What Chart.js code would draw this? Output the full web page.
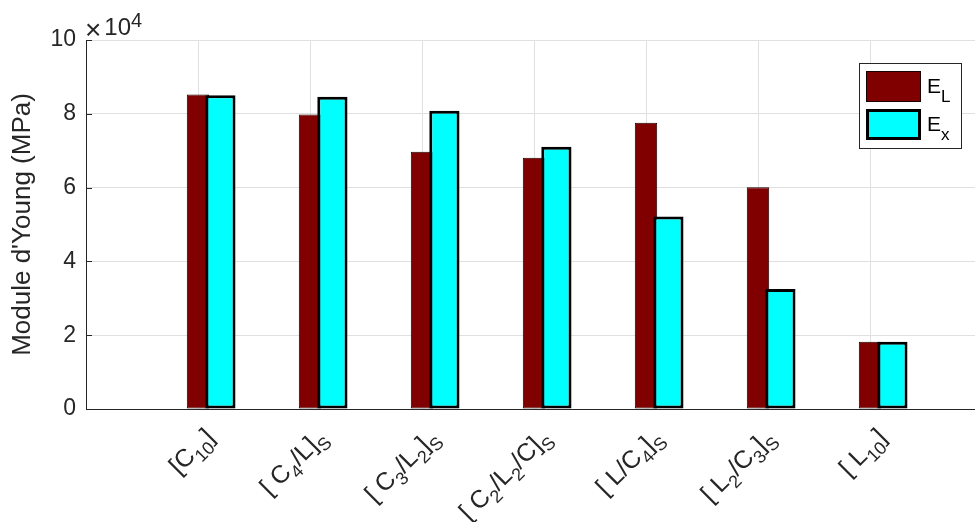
<!DOCTYPE html>
<html><head><meta charset="utf-8">
<script src="https://cdn.jsdelivr.net/npm/chart.js@4.4.0/dist/chart.umd.min.js"></script>
<style>html,body{margin:0;padding:0;background:#fff;overflow:hidden}</style>
</head><body>
<canvas id="c" width="975" height="522"></canvas>
<script>
// ---- data ----
const categories = ['[C_{10}]', '[ C_4/L]_S', '[ C_3/L_2]_S', '[ C_2/L_2/C]_S', '[ L/C_4]_S', '[ L_2/C_3]_S', '[ L_{10}]'];
const categoryIndex = [1, 2, 3, 4, 5, 6, 7];
const seriesNames = ['E_L', 'E_x'];
const E_L = [85200, 79800, 69700, 68100, 77600, 60100, 18200];
const E_x = [85000, 84600, 80800, 71100, 52200, 32500, 18200];
const yTickValues = [0, 20000, 40000, 60000, 80000, 100000];
const yExponent = 4;
const yTitle = "Module d'Young (MPa)";

// ---- style ----
const FONT = "'Liberation Sans', Arial, Helvetica, sans-serif";
const AX = '#262626';
const GRID = '#e0e0e0';
const RED = '#800000';
const CYAN = '#00ffff';
const TICK_SIZE = 23;
const XLAB_SIZE = 25;

function parseTex(s) {
  const segs = []; let i = 0, buf = '';
  while (i < s.length) {
    const ch = s[i];
    if (ch === '_' || ch === '^') {
      if (buf) { segs.push({ t: buf, k: 0 }); buf = ''; }
      let t;
      if (s[i + 1] === '{') { const j = s.indexOf('}', i + 2); t = s.slice(i + 2, j); i = j + 1; }
      else { t = s[i + 1]; i += 2; }
      segs.push({ t, k: ch === '_' ? -1 : 1 });
    } else { buf += ch; i++; }
  }
  if (buf) segs.push({ t: buf, k: 0 });
  return segs;
}
function texWidth(ctx, segs, size, subRatio) {
  let w = 0;
  for (const s of segs) {
    ctx.font = (s.k ? Math.round(size * subRatio) : size) + 'px ' + FONT;
    w += ctx.measureText(s.t).width;
  }
  return w;
}
function drawTex(ctx, segs, x, y, size, subRatio, subDrop, supRise) {
  ctx.textBaseline = 'alphabetic'; ctx.textAlign = 'left';
  for (const s of segs) {
    const fs = s.k ? Math.round(size * subRatio) : size;
    ctx.font = fs + 'px ' + FONT;
    const dy = s.k < 0 ? subDrop * size : (s.k > 0 ? -supRise * size : 0);
    ctx.fillText(s.t, x, y + dy);
    x += ctx.measureText(s.t).width;
  }
}

const decorations = {
  id: 'decorations',
  afterDatasetsDraw(chart) {
    const ctx = chart.ctx;
    const xs = chart.scales.x, ys = chart.scales.y;
    const ca = chart.chartArea;
    ctx.save();
    // inward y ticks
    ctx.strokeStyle = AX; ctx.lineWidth = 1;
    for (const v of yTickValues) {
      const py = Math.round(ys.getPixelForValue(v)) + 0.5;
      ctx.beginPath(); ctx.moveTo(ca.left, py); ctx.lineTo(ca.left + 6, py); ctx.stroke();
    }
    // rotated category labels
    ctx.fillStyle = AX;
    categories.forEach((lab, i) => {
      const segs = parseTex(lab);
      const px = xs.getPixelForValue(categoryIndex[i]);
      const w = texWidth(ctx, segs, XLAB_SIZE, 0.72);
      ctx.save();
      ctx.translate(px + 5, xs.top + 17);
      ctx.rotate(-Math.PI / 4);
      drawTex(ctx, segs, -w, XLAB_SIZE * 0.716, XLAB_SIZE, 0.72, 0.3, 0.45);
      ctx.restore();
    });
    // exponent label
    ctx.fillStyle = AX; ctx.textBaseline = 'alphabetic'; ctx.textAlign = 'left';
    ctx.font = '28px ' + FONT;
    ctx.fillText('\u00d7', ca.left - 1, ca.top - 1);
    let w1 = ctx.measureText('\u00d7').width + 3;
    ctx.font = '24px ' + FONT;
    ctx.fillText('10', ca.left - 1 + w1, ca.top - 5);
    w1 += ctx.measureText('10').width;
    ctx.font = '20px ' + FONT;
    ctx.fillText(String(yExponent), ca.left - 1 + w1, ca.top - 13);
    // legend
    const bx = ca.right - 116, by = ca.top + 23, bw = 102, bh = 85;
    ctx.fillStyle = '#fff'; ctx.fillRect(bx, by, bw, bh);
    ctx.strokeStyle = AX; ctx.lineWidth = 1;
    ctx.strokeRect(bx + 0.5, by + 0.5, bw, bh);
    const ds = chart.data.datasets;
    const rows = [by + 8, by + 46];
    ds.forEach((d, i) => {
      const sx = bx + 7, sy = rows[i], sw = 55, sh = 31;
      ctx.fillStyle = d.backgroundColor;
      ctx.fillRect(sx, sy, sw, sh);
      ctx.strokeStyle = d.borderColor; ctx.lineWidth = d.borderWidth;
      ctx.strokeRect(sx + d.borderWidth / 2, sy + d.borderWidth / 2, sw - d.borderWidth, sh - d.borderWidth);
      ctx.fillStyle = '#000';
      drawTex(ctx, parseTex(seriesNames[i]), sx + sw + 6, sy + 22, 21, 0.8, 0.45, 0.45);
    });
    ctx.restore();
  }
};

new Chart(document.getElementById('c').getContext('2d'), {
  type: 'bar',
  data: {
    datasets: [
      { label: seriesNames[0], data: categoryIndex.map((x, i) => ({ x, y: E_L[i] })), xAxisID: 'x',
        backgroundColor: RED, borderColor: '#1a0000', borderWidth: 1, borderSkipped: false,
        barPercentage: 0.2, categoryPercentage: 1, grouped: false, order: 2 },
      { label: seriesNames[1], data: categoryIndex.map((x, i) => ({ x, y: E_x[i] })), xAxisID: 'x2',
        backgroundColor: CYAN, borderColor: '#000000', borderWidth: 3, borderSkipped: false,
        barPercentage: 0.27, categoryPercentage: 1, grouped: false, order: 1 }
    ]
  },
  options: {
    responsive: false, animation: false, devicePixelRatio: 1,
    layout: { padding: { left: 0, right: 0, top: 40, bottom: 0 } },
    plugins: { legend: { display: false }, tooltip: { enabled: false } },
    scales: {
      x: { type: 'linear', min: 0, max: 7.9375, position: 'bottom', offset: false,
        afterFit(s) { s.height = 113; },
        ticks: { display: false, stepSize: 1, includeBounds: false },
        grid: { color: GRID, drawTicks: false, offset: false }, border: { display: true, color: AX } },
      x2: { type: 'linear', min: -0.2, max: 7.7375, display: false, offset: false,
        ticks: { stepSize: 1, includeBounds: false }, grid: { offset: false } },
      y: { min: 0, max: 100000,
        afterFit(s) { s.width = 86; },
        afterBuildTicks(s) { s.ticks = yTickValues.map(v => ({ value: v })); },
        ticks: { callback: v => String(v / Math.pow(10, yExponent)), font: { family: FONT, size: TICK_SIZE }, color: AX, padding: 10 },
        grid: { color: GRID, drawTicks: false }, border: { color: AX },
        title: { display: true, text: yTitle, font: { family: FONT, size: 26 }, color: AX, padding: { top: 7, bottom: 0 } } }
    }
  },
  plugins: [decorations]
});
</script>
</body></html>
